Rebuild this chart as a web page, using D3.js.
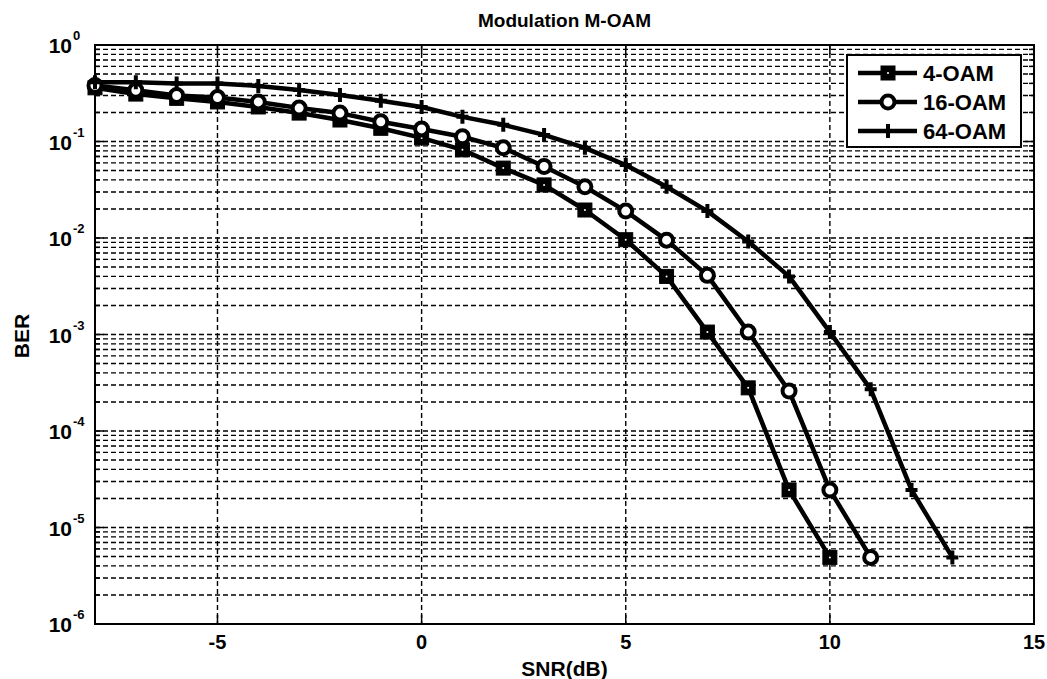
<!DOCTYPE html>
<html><head><meta charset="utf-8">
<script src="https://cdn.jsdelivr.net/npm/d3@7"></script>
<style>
html,body{margin:0;padding:0;background:#fff;}
svg{display:block;font-family:"Liberation Sans",Arial,Helvetica,sans-serif;font-weight:bold;}
</style></head>
<body><svg id="chart" width="1047" height="679"></svg>
<script>
const title = "Modulation M-OAM";
const xLabel = "SNR(dB)";
const yLabel = "BER";
const seriesNames = ["4-OAM", "16-OAM", "64-OAM"];
const snr4 = d3.range(-8, 11);
const ber4 = [0.36,0.31,0.28,0.257,0.228,0.197,0.167,0.137,0.109,0.082,0.053,0.0355,0.0195,0.0096,0.004,0.00106,0.00028,0.0000245,0.0000049];
const snr16 = d3.range(-8, 12);
const ber16 = [0.38,0.34,0.30,0.285,0.257,0.222,0.197,0.16,0.135,0.112,0.086,0.055,0.034,0.019,0.0095,0.0041,0.00106,0.00026,0.0000245,0.0000049];
const snr64 = d3.range(-8, 14);
const ber64 = [0.41,0.41,0.40,0.40,0.376,0.342,0.303,0.265,0.228,0.18,0.149,0.117,0.086,0.057,0.034,0.019,0.0092,0.004,0.00106,0.00027,0.0000245,0.0000049];
const xTicks = [-5, 0, 5, 10, 15];
const yExponents = [0, -1, -2, -3, -4, -5, -6];

const svg = d3.select("#chart");
const L = 95, R = 1034, T = 45, B = 624;
const x = d3.scaleLinear().domain([-8, 15]).range([L, R]);
const y = d3.scaleLog().domain([1e-6, 1]).range([B, T]);

// grid
const minorY = [];
for (let e = -6; e < 0; e++) for (let m = 1; m <= 9; m++) minorY.push(m * Math.pow(10, e));
const g = svg.append("g");
g.selectAll("line.hy").data(minorY.filter(v => v > 1e-6)).enter().append("line")
  .attr("x1", L).attr("x2", R).attr("y1", d => y(d)).attr("y2", d => y(d))
  .attr("stroke", "#000").attr("stroke-width", 1.4).attr("stroke-dasharray", "5,3");
g.selectAll("line.vx").data(xTicks.filter(v => v < 15)).enter().append("line")
  .attr("y1", T).attr("y2", B).attr("x1", d => x(d)).attr("x2", d => x(d))
  .attr("stroke", "#000").attr("stroke-width", 1.4).attr("stroke-dasharray", "5,3");

// axes box
svg.append("rect").attr("x", L).attr("y", T).attr("width", R - L).attr("height", B - T)
  .attr("fill", "none").attr("stroke", "#000").attr("stroke-width", 2);

// inside ticks
const tk = svg.append("g").attr("stroke", "#000").attr("stroke-width", 1.5);
minorY.forEach(v => {
  const isMaj = Math.abs(Math.log10(v) - Math.round(Math.log10(v))) < 1e-9;
  const len = isMaj ? 9 : 5;
  tk.append("line").attr("x1", L).attr("x2", L + len).attr("y1", y(v)).attr("y2", y(v));
  tk.append("line").attr("x1", R).attr("x2", R - len).attr("y1", y(v)).attr("y2", y(v));
});
xTicks.forEach(v => {
  tk.append("line").attr("x1", x(v)).attr("x2", x(v)).attr("y1", B).attr("y2", B - 9);
  tk.append("line").attr("x1", x(v)).attr("x2", x(v)).attr("y1", T).attr("y2", T + 9);
});

// tick labels
svg.selectAll("text.xt").data(xTicks).enter().append("text")
  .attr("x", d => x(d)).attr("y", 649).attr("text-anchor", "middle")
  .attr("font-size", 20).text(d => d);
yExponents.forEach(e => {
  const yy = y(Math.pow(10, e));
  svg.append("text").attr("x", 72).attr("y", yy + 8).attr("text-anchor", "end")
    .attr("font-size", 21).text("10");
  svg.append("text").attr("x", 73).attr("y", yy - 5).attr("text-anchor", "start")
    .attr("font-size", 13).text(String(e));
});

// titles
svg.append("text").attr("x", (L + R) / 2).attr("y", 27).attr("text-anchor", "middle")
  .attr("font-size", 19).text(title);
svg.append("text").attr("x", (L + R) / 2).attr("y", 676).attr("text-anchor", "middle")
  .attr("font-size", 21).text(xLabel);
svg.append("text").attr("transform", "translate(29,336) rotate(-90)").attr("text-anchor", "middle")
  .attr("font-size", 21).text(yLabel);

// series
const line = d3.line().x(d => x(d[0])).y(d => y(d[1]));
const series = [
  {name: seriesNames[0], pts: d3.zip(snr4, ber4), marker: "square"},
  {name: seriesNames[1], pts: d3.zip(snr16, ber16), marker: "circle"},
  {name: seriesNames[2], pts: d3.zip(snr64, ber64), marker: "plus"}
];
function drawMarker(sel, type, cx, cy) {
  if (type === "square") {
    sel.append("rect").attr("x", cx - 7).attr("y", cy - 7).attr("width", 14).attr("height", 14)
      .attr("fill", "#000").attr("stroke", "#000").attr("stroke-width", 1);
    sel.append("circle").attr("cx", cx).attr("cy", cy).attr("r", 1).attr("fill", "#fff");
  } else if (type === "circle") {
    sel.append("circle").attr("cx", cx).attr("cy", cy).attr("r", 6.5)
      .attr("fill", "#fff").attr("stroke", "#000").attr("stroke-width", 4);
  } else {
    sel.append("path").attr("d", `M${cx - 6},${cy}H${cx + 6}M${cx},${cy - 7}V${cy + 7}`)
      .attr("stroke", "#000").attr("stroke-width", 4);
  }
}
const sg = svg.append("g");
series.forEach(s => {
  sg.append("path").datum(s.pts).attr("d", line).attr("fill", "none")
    .attr("stroke", "#000").attr("stroke-width", 4.5).attr("stroke-linejoin", "round");
});
series.forEach(s => {
  const mg = sg.append("g");
  s.pts.forEach(p => drawMarker(mg, s.marker, x(p[0]), y(p[1])));
});

// legend
const lg = svg.append("g");
lg.append("rect").attr("x", 847).attr("y", 55).attr("width", 174).attr("height", 92)
  .attr("fill", "#fff").attr("stroke", "#000").attr("stroke-width", 2);
series.forEach((s, i) => {
  const ly = 73 + i * 29;
  lg.append("line").attr("x1", 858).attr("x2", 917).attr("y1", ly).attr("y2", ly)
    .attr("stroke", "#000").attr("stroke-width", 4.5);
  drawMarker(lg, s.marker, 888, ly);
  lg.append("text").attr("x", 923).attr("y", ly + 8).attr("font-size", 22).text(s.name);
});
</script></body></html>
